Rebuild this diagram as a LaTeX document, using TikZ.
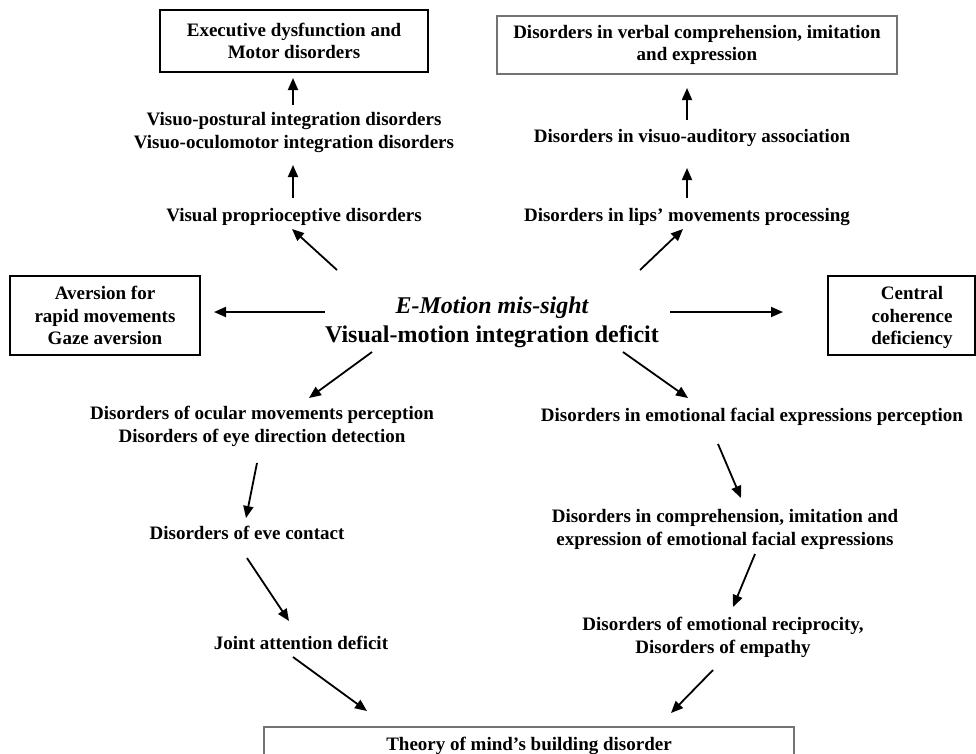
\documentclass[tikz,border=0pt]{standalone}
\usepackage{fontspec}
\setmainfont{Liberation Serif}
\usetikzlibrary{arrows.meta}
\tikzset{
  txt/.style={align=center, inner sep=0pt, font=\bfseries\fontsize{19}{22.5}\selectfont},
  box/.style={txt, draw=black, line width=1.8pt},
  graybox/.style={txt, draw=black!55, line width=1.4pt},
  arr/.style={line width=1.8pt, -{Triangle[length=12pt,width=10pt]}},
}
\begin{document}
\begin{tikzpicture}[x=1pt,y=-1pt]
\useasboundingbox (0,0) rectangle (976,753);
\clip (0,0) rectangle (976,753);

% boxes
\node[box, minimum width=268pt, minimum height=62pt] (exec) at (294,41) {Executive dysfunction and\\Motor disorders};
\node[graybox, minimum width=400pt, minimum height=58pt] (verbal) at (697,45) {Disorders in verbal comprehension, imitation\\and expression};
\node[box, minimum width=190pt, minimum height=79pt] (avers) at (105,315.5) {Aversion for\\rapid movements\\Gaze aversion};
\node[box, minimum width=147pt, minimum height=79pt] (central) at (901.5,315.5) {};
\node[txt] (centraltxt) at (912,317.5) {Central\\coherence\\deficiency};
\node[graybox, minimum width=530pt, minimum height=40pt] (tomframe) at (529,747) {};
\node[txt] (tom) at (529,746) {Theory of mind’s building disorder};

% text nodes
\node[txt] (visuo) at (294,132.5) {Visuo-postural integration disorders\\Visuo-oculomotor integration disorders};
\node[txt] (vprop) at (294,217) {Visual proprioceptive disorders};
\node[txt] (vaud) at (692,138) {Disorders in visuo-auditory association};
\node[txt] (lips) at (687,217) {Disorders in lips’ movements processing};
\node[txt, font=\bfseries\fontsize{24}{29}\selectfont] (core) at (492,322.5) {{\itshape E-Motion mis-sight}\\Visual-motion integration deficit};
\node[txt] (ocular) at (262,426.5) {Disorders of ocular movements perception\\Disorders of eye direction detection};
\node[txt] (emofac) at (752,417) {Disorders in emotional facial expressions perception};
\node[txt] (eyec) at (247,533) {Disorders of eve contact};
\node[txt] (joint) at (301,643) {Joint attention deficit};
\node[txt] (compr) at (725,529.5) {Disorders in comprehension, imitation and\\expression of emotional facial expressions};
\node[txt] (recip) at (723,637.5) {Disorders of emotional reciprocity,\\Disorders of empathy};

% arrow end points
\coordinate (a1s) at (293,105); \coordinate (a1e) at (293,78);
\coordinate (a2s) at (293,198); \coordinate (a2e) at (293,165);
\coordinate (a3s) at (337,270); \coordinate (a3e) at (292,229);
\coordinate (a4s) at (687,120); \coordinate (a4e) at (687,88);
\coordinate (a5s) at (687,198); \coordinate (a5e) at (687,168);
\coordinate (a6s) at (640,270); \coordinate (a6e) at (683,229);
\coordinate (a7s) at (325,312); \coordinate (a7e) at (214,312);
\coordinate (a8s) at (670,312); \coordinate (a8e) at (783,312);
\coordinate (a9s) at (372,352); \coordinate (a9e) at (309,398);
\coordinate (a10s) at (623,352); \coordinate (a10e) at (688,398);
\coordinate (a11s) at (257,463); \coordinate (a11e) at (246,518);
\coordinate (a12s) at (247,558); \coordinate (a12e) at (289,621);
\coordinate (a13s) at (293,657); \coordinate (a13e) at (367,711);
\coordinate (a14s) at (718,444); \coordinate (a14e) at (741,498);
\coordinate (a15s) at (755,554); \coordinate (a15e) at (733,607);
\coordinate (a16s) at (713,670); \coordinate (a16e) at (671,713);

\draw[arr] (a1s) -- (a1e);
\draw[arr] (a2s) -- (a2e);
\draw[arr] (a3s) -- (a3e);
\draw[arr] (a4s) -- (a4e);
\draw[arr] (a5s) -- (a5e);
\draw[arr] (a6s) -- (a6e);
\draw[arr] (a7s) -- (a7e);
\draw[arr] (a8s) -- (a8e);
\draw[arr] (a9s) -- (a9e);
\draw[arr] (a10s) -- (a10e);
\draw[arr] (a11s) -- (a11e);
\draw[arr] (a12s) -- (a12e);
\draw[arr] (a13s) -- (a13e);
\draw[arr] (a14s) -- (a14e);
\draw[arr] (a15s) -- (a15e);
\draw[arr] (a16s) -- (a16e);
\end{tikzpicture}
\end{document}
